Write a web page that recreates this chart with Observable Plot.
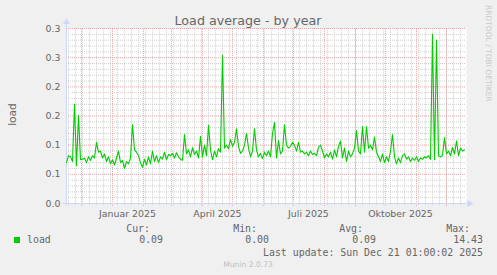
<!DOCTYPE html>
<html><head><meta charset="utf-8">
<script src="https://cdn.jsdelivr.net/npm/d3@7"></script>
<script src="https://cdn.jsdelivr.net/npm/@observablehq/plot@0.6"></script>
<style>
html,body{margin:0;padding:0;background:#f0f0f0;}
#chart{position:relative;width:497px;height:275px;background:#f0f0f0;overflow:hidden;}
#chart svg{position:absolute;left:0;top:0;}
</style></head><body><div id="chart"></div>
<script>
// ---- data ----
const startDate = new Date(2024, 10, 16, 1);
const endDate = new Date(2025, 11, 21, 1);
const stepDays = 2;
const loadValues = [
0.070,0.082,0.080,0.072,0.170,0.065,0.151,0.075,0.076,0.078,
0.070,0.080,0.074,0.082,0.078,0.105,0.088,0.090,0.078,0.085,
0.072,0.080,0.068,0.075,0.066,0.078,0.090,0.070,0.074,0.060,
0.072,0.068,0.078,0.135,0.092,0.088,0.082,0.070,0.062,0.076,
0.066,0.080,0.068,0.090,0.072,0.082,0.070,0.080,0.076,0.088,
0.075,0.084,0.082,0.086,0.078,0.087,0.080,0.076,0.074,0.118,
0.085,0.092,0.080,0.096,0.084,0.090,0.078,0.115,0.080,0.100,
0.082,0.134,0.092,0.075,0.090,0.080,0.094,0.088,0.254,0.095,
0.100,0.094,0.110,0.098,0.105,0.128,0.098,0.086,0.090,0.100,
0.120,0.095,0.080,0.090,0.128,0.092,0.080,0.086,0.077,0.088,
0.082,0.090,0.080,0.120,0.139,0.078,0.108,0.085,0.090,0.135,
0.100,0.095,0.098,0.105,0.100,0.090,0.105,0.088,0.090,0.085,
0.088,0.082,0.090,0.084,0.086,0.082,0.096,0.100,0.090,0.078,
0.085,0.080,0.088,0.076,0.092,0.080,0.098,0.107,0.078,0.095,
0.072,0.090,0.080,0.085,0.095,0.125,0.090,0.085,0.132,0.088,
0.132,0.095,0.100,0.092,0.114,0.088,0.080,0.072,0.085,0.070,
0.080,0.072,0.090,0.118,0.080,0.068,0.078,0.070,0.082,0.085,
0.076,0.080,0.072,0.078,0.074,0.080,0.072,0.078,0.076,0.080,
0.078,0.082,0.076,0.290,0.075,0.280,0.082,0.080,0.083,0.113,
0.085,0.090,0.082,0.096,0.085,0.107,0.082,0.095,0.090,0.092
];
const yTicks = [0, 0.05, 0.1, 0.15, 0.2, 0.25, 0.3];
const yTickLabels = ["0.0", "0.1", "0.1", "0.2", "0.2", "0.3", "0.3"];
const xLabelDates = [new Date(2025, 0, 16), new Date(2025, 3, 16), new Date(2025, 6, 16), new Date(2025, 9, 16)];
const xLabels = ["Januar 2025", "April 2025", "Juli 2025", "Oktober 2025"];
const title = "Load average - by year";
const yLabel = "load";
const seriesName = "load";
const legendHeaders = ["Cur:", "Min:", "Avg:", "Max:"];
const legendValues = ["0.09", "0.00", "0.09", "14.43"];
const lastUpdate = "Last update: Sun Dec 21 01:00:02 2025";
const footer = "Munin 2.0.73";
const sideText = "RRDTOOL / TOBI OETIKER";

// ---- derived ----
const data = loadValues.map((v, i) => ({date: d3.timeDay.offset(startDate, i * stepDays), value: v}));
const months = d3.timeMonth.range(startDate, endDate);
const weeks = d3.timeMonday.range(startDate, endDate);
const yMinor = d3.range(1, 30).map(k => k / 100).filter(v => !yTicks.some(t => Math.abs(t - v) < 1e-9));
const axisColor = "#CFD6F8";
const gridMinor = "#cfcfcf";
const gridMajor = "#e9a5a5";
const axisStartX = d3.timeDay.offset(startDate, -4);
const axisEndX = d3.timeDay.offset(endDate, 3);

const svg = Plot.plot({
  width: 497, height: 275,
  marginLeft: 66, marginRight: 31, marginTop: 28, marginBottom: 72,
  style: {background: "transparent", color: "#666", fontFamily: "DejaVu Sans", fontSize: "9.4px"},
  x: {type: "time", domain: [startDate, endDate], label: null},
  y: {domain: [0, 0.3], label: null},
  marks: [
    Plot.frame({fill: "#fff", stroke: null}),
    Plot.ruleY(yMinor, {stroke: gridMinor, strokeDasharray: "1,1", strokeWidth: 1}),
    Plot.ruleX(weeks, {y1: -0.003, y2: 0.3, stroke: gridMinor, strokeDasharray: "1,1"}),
    Plot.ruleY(yTicks, {stroke: gridMajor, strokeDasharray: "1,1"}),
    Plot.ruleX(months, {y1: -0.005, y2: 0.3, stroke: gridMajor, strokeDasharray: "1,1"}),
    Plot.ruleY([0], {x1: axisStartX, x2: axisEndX, stroke: axisColor}),
    Plot.ruleX([startDate], {y1: -0.004, y2: 0.309, stroke: axisColor}),
    Plot.dot([0], {x: axisEndX, y: 0, symbol: "triangle", rotate: 90, r: 2.6, fill: axisColor, stroke: null}),
    Plot.dot([0], {x: startDate, y: 0.311, symbol: "triangle", r: 2.6, fill: axisColor, stroke: null}),
    Plot.lineY(data, {x: "date", y: "value", stroke: "#00cc00", strokeWidth: 1.1}),
    Plot.axisY(yTicks, {tickFormat: d => yTickLabels[yTicks.indexOf(d)], tickSize: 0, tickPadding: 6, fontSize: 9.4, label: null}),
    Plot.axisX(xLabelDates, {tickFormat: d => xLabels[xLabelDates.findIndex(t => +t === +d)], tickSize: 0, tickPadding: 6.5, fontSize: 9.4, label: null})
  ]
});
document.getElementById("chart").appendChild(svg);

// ---- overlay texts ----
const ov = d3.select("#chart").append("svg").attr("width", 497).attr("height", 275)
  .style("font-family", "DejaVu Sans").style("fill", "#666");
ov.append("text").attr("x", 248).attr("y", 25).attr("text-anchor", "middle")
  .style("font-size", "12.7px").text(title);
ov.append("text").attr("transform", "translate(15.5,114.5) rotate(-90)").attr("text-anchor", "middle")
  .style("font-size", "10.6px").text(yLabel);
ov.append("text").attr("transform", "translate(485.5,5) rotate(90)")
  .style("font-size", "7.5px").style("fill", "#c8c8c8").text(sideText);
const mono = ov.append("g").style("font-family", "DejaVu Sans Mono").style("font-size", "9.9px");
const hdrX = [150, 257, 363, 470];
const valX = [163, 269, 376, 483];
legendHeaders.forEach((h, i) => mono.append("text").attr("x", hdrX[i]).attr("y", 231.5).attr("text-anchor", "end").text(h));
legendValues.forEach((v, i) => mono.append("text").attr("x", valX[i]).attr("y", 243).attr("text-anchor", "end").text(v));
mono.append("text").attr("x", 27).attr("y", 243).text(seriesName);
mono.append("rect").attr("x", 14).attr("y", 237).attr("width", 6).attr("height", 6).style("fill", "#00cc00");
mono.append("text").attr("x", 483).attr("y", 255.5).attr("text-anchor", "end").text(lastUpdate);
ov.append("text").attr("x", 248).attr("y", 266.5).attr("text-anchor", "middle")
  .style("font-size", "7.6px").style("fill", "#bdbdbd").text(footer);
</script></body></html>
